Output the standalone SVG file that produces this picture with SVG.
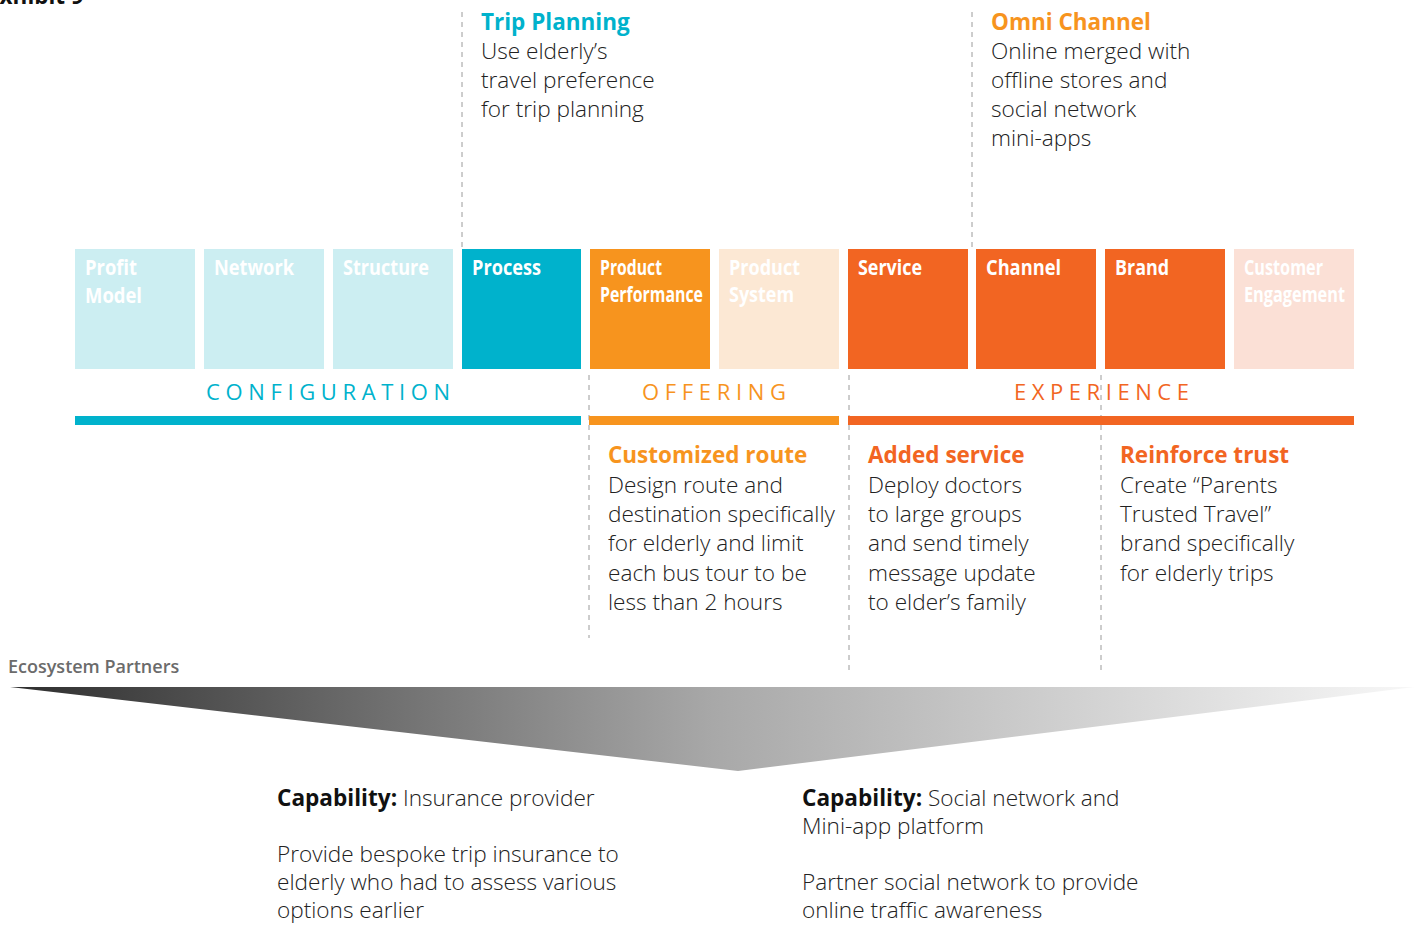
<svg xmlns="http://www.w3.org/2000/svg" width="1414" height="925" viewBox="0 0 1414 925">
<style>
.bx{font-family:"Open Sans","Liberation Sans",sans-serif;font-weight:700;font-size:21px;fill:#fff}
.hd{font-family:"Open Sans","Liberation Sans",sans-serif;font-weight:700;font-size:22.5px}
.bd{font-family:"Open Sans","Liberation Sans",sans-serif;font-weight:300;font-size:22.6px;fill:#222}
.cat{font-family:"Open Sans","Liberation Sans",sans-serif;font-weight:400;font-size:22px}
.dash{stroke:#9a9a9a;stroke-width:1;stroke-dasharray:5 5;fill:none}
</style>
<defs>
<linearGradient id="g" x1="0" y1="0" x2="1" y2="0">
<stop offset="0" stop-color="#2e2e2e"/>
<stop offset="0.5" stop-color="#a8a8a8"/>
<stop offset="1" stop-color="#f7f7f7"/>
</linearGradient>
</defs>
<rect width="1414" height="925" fill="#fff"/>
<text x="-13" y="4" class="hd" fill="#111" font-size="21">Exhibit 9</text>

<g id="connectors">
<line class="dash" x1="462" y1="12" x2="462" y2="247"/>
<line class="dash" x1="972" y1="12" x2="972" y2="247"/>
<line class="dash" x1="589" y1="375" x2="589" y2="638"/>
<line class="dash" x1="849" y1="375" x2="849" y2="670"/>
<line class="dash" x1="1101" y1="375" x2="1101" y2="670"/>
</g>

<g id="trip-planning">
<text x="481" y="30" class="hd" fill="#00B2CC">Trip Planning</text>
<text class="bd"><tspan x="481" y="59">Use elderly’s</tspan><tspan x="481" y="88">travel preference</tspan><tspan x="481" y="117">for trip planning</tspan></text>
</g>
<g id="omni-channel">
<text x="991" y="30" class="hd" fill="#F7941E">Omni Channel</text>
<text class="bd"><tspan x="991" y="59">Online merged with</tspan><tspan x="991" y="88">offline stores and</tspan><tspan x="991" y="117">social network</tspan><tspan x="991" y="146">mini-apps</tspan></text>
</g>

<g id="profit-model"><rect x="75" y="249" width="120" height="120" fill="#CCEEF2"/><text class="bx"><tspan x="85" y="275" textLength="52" lengthAdjust="spacingAndGlyphs">Profit</tspan><tspan x="85" y="303" textLength="57" lengthAdjust="spacingAndGlyphs">Model</tspan></text></g>
<g id="network"><rect x="204" y="249" width="120" height="120" fill="#CCEEF2"/><text class="bx" x="214" y="275" textLength="80" lengthAdjust="spacingAndGlyphs">Network</text></g>
<g id="structure"><rect x="333" y="249" width="120" height="120" fill="#CCEEF2"/><text class="bx" x="343" y="275" textLength="86" lengthAdjust="spacingAndGlyphs">Structure</text></g>
<g id="process"><rect x="462" y="249" width="119" height="120" fill="#00B2CC"/><text class="bx" x="472" y="275" textLength="69" lengthAdjust="spacingAndGlyphs">Process</text></g>
<g id="product-performance"><rect x="590" y="249" width="120" height="120" fill="#F7941E"/><text class="bx"><tspan x="600" y="275" textLength="62" lengthAdjust="spacingAndGlyphs">Product</tspan><tspan x="600" y="302" textLength="103" lengthAdjust="spacingAndGlyphs">Performance</tspan></text></g>
<g id="product-system"><rect x="719" y="249" width="120" height="120" fill="#FCE8D4"/><text class="bx"><tspan x="729" y="275" textLength="71" lengthAdjust="spacingAndGlyphs">Product</tspan><tspan x="729" y="302" textLength="65" lengthAdjust="spacingAndGlyphs">System</tspan></text></g>
<g id="service"><rect x="848" y="249" width="120" height="120" fill="#F26522"/><text class="bx" x="858" y="275" textLength="64" lengthAdjust="spacingAndGlyphs">Service</text></g>
<g id="channel"><rect x="976" y="249" width="120" height="120" fill="#F26522"/><text class="bx" x="986" y="275" textLength="75" lengthAdjust="spacingAndGlyphs">Channel</text></g>
<g id="brand"><rect x="1105" y="249" width="120" height="120" fill="#F26522"/><text class="bx" x="1115" y="275" textLength="54" lengthAdjust="spacingAndGlyphs">Brand</text></g>
<g id="customer-engagement"><rect x="1234" y="249" width="120" height="120" fill="#FBE0D6"/><text class="bx"><tspan x="1244" y="275" textLength="79" lengthAdjust="spacingAndGlyphs">Customer</tspan><tspan x="1244" y="302" textLength="101" lengthAdjust="spacingAndGlyphs">Engagement</tspan></text></g>

<g id="configuration"><text class="cat" x="206" y="400" fill="#00B2CC" textLength="244" lengthAdjust="spacing">CONFIGURATION</text><rect x="75" y="416" width="506" height="9" fill="#00B2CC"/></g>
<g id="offering"><text class="cat" x="642" y="400" fill="#F7941E" textLength="144" lengthAdjust="spacing">OFFERING</text><rect x="589" y="416" width="250" height="9" fill="#F7941E"/></g>
<g id="experience"><text class="cat" x="1014" y="400" fill="#F26522" textLength="175" lengthAdjust="spacing">EXPERIENCE</text><rect x="848" y="416" width="506" height="9" fill="#F26522"/></g>

<g id="customized-route">
<text x="608" y="463" class="hd" fill="#F7941E">Customized route</text>
<text class="bd"><tspan x="608" y="493">Design route and</tspan><tspan x="608" y="522">destination specifically</tspan><tspan x="608" y="551">for elderly and limit</tspan><tspan x="608" y="581">each bus tour to be</tspan><tspan x="608" y="610">less than 2 hours</tspan></text>
</g>
<g id="added-service">
<text x="868" y="463" class="hd" fill="#F26522">Added service</text>
<text class="bd"><tspan x="868" y="493">Deploy doctors</tspan><tspan x="868" y="522">to large groups</tspan><tspan x="868" y="551">and send timely</tspan><tspan x="868" y="581">message update</tspan><tspan x="868" y="610">to elder’s family</tspan></text>
</g>
<g id="reinforce-trust">
<text x="1120" y="463" class="hd" fill="#F26522">Reinforce trust</text>
<text class="bd"><tspan x="1120" y="493">Create “Parents</tspan><tspan x="1120" y="522">Trusted Travel”</tspan><tspan x="1120" y="551">brand specifically</tspan><tspan x="1120" y="581">for elderly trips</tspan></text>
</g>

<g id="ecosystem">
<text x="8" y="673" font-family="Open Sans, Liberation Sans, sans-serif" font-weight="600" font-size="18" fill="#6b6b6b">Ecosystem Partners</text>
<polygon points="10,687 1414,687 738,771" fill="url(#g)"/>
</g>

<g id="insurance">
<text x="277" y="806" class="bd"><tspan font-weight="700" fill="#111">Capability:</tspan> Insurance provider</text>
<text class="bd"><tspan x="277" y="862">Provide bespoke trip insurance to</tspan><tspan x="277" y="890">elderly who had to assess various</tspan><tspan x="277" y="918">options earlier</tspan></text>
</g>
<g id="social-network">
<text class="bd"><tspan x="802" y="806"><tspan font-weight="700" fill="#111">Capability:</tspan> Social network and</tspan><tspan x="802" y="834">Mini-app platform</tspan></text>
<text class="bd"><tspan x="802" y="890">Partner social network to provide</tspan><tspan x="802" y="918">online traffic awareness</tspan></text>
</g>
</svg>
